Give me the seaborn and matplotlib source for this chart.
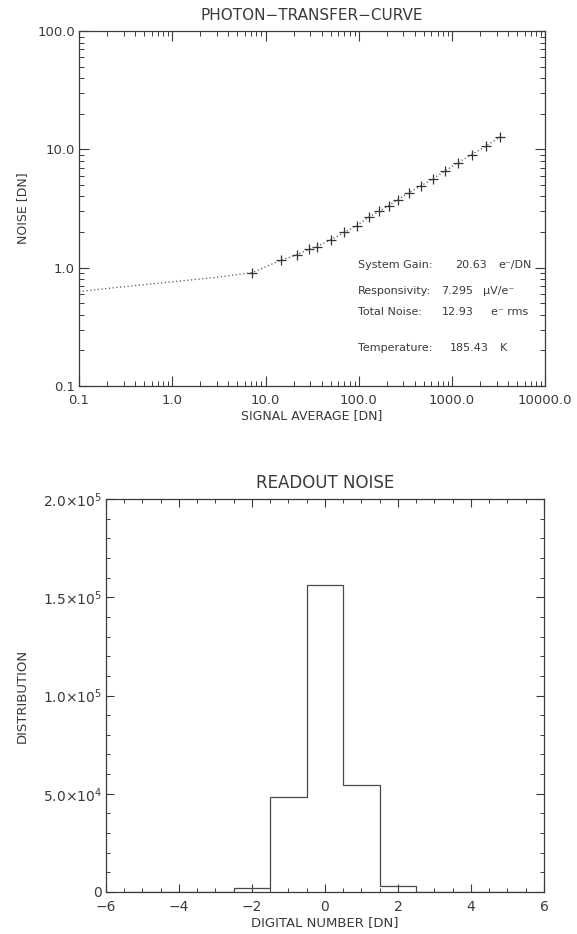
import numpy as np
import pandas as pd
import matplotlib
matplotlib.use("Agg")
import matplotlib.pyplot as plt
import matplotlib.ticker as mticker
import seaborn as sns

# photon transfer curve: measured points (signal average vs noise, DN)
signal_dn = [7.2, 14.7, 21.5, 29, 35.4, 50, 70, 95, 130, 166, 209, 262,
             345, 466, 623, 841, 1157, 1620, 2290, 3300]
noise_dn = [0.91, 1.16, 1.28, 1.43, 1.51, 1.72, 1.99, 2.27, 2.70, 3.0, 3.35, 3.77,
            4.30, 4.93, 5.65, 6.57, 7.73, 9.04, 10.6, 12.8]
# read-noise floor of the fit, below the first point
fit_signal = [0.1, 0.3, 1.0, 3.0, 7.2]
fit_noise = [0.63, 0.69, 0.76, 0.83, 0.91]

x_ticks = [0.1, 1, 10, 100, 1000, 10000]
x_labels = ["0.1", "1.0", "10.0", "100.0", "1000.0", "10000.0"]
y_ticks = [0.1, 1, 10, 100]
y_labels = ["0.1", "1.0", "10.0", "100.0"]

info_names = ["System Gain:", "Responsivity:", "Total Noise:", "Temperature:"]
info_values = ["20.63", "7.295", "12.93", "185.43"]
info_units = ["e⁻/DN", "μV/e⁻", "e⁻ rms", "K"]

# readout noise histogram
dn_bins = [-5, -4, -3, -2, -1, 0, 1, 2, 3, 4, 5]
dn_counts = [0, 0, 0, 2000, 48500, 156000, 54400, 2800, 0, 0, 0]
hist_yticks = [0, 5e4, 1e5, 1.5e5, 2e5]
hist_ylabels = ["0", r"5.0$\times$10$^4$", r"1.0$\times$10$^5$",
                r"1.5$\times$10$^5$", r"2.0$\times$10$^5$"]

sns.set_theme(style="ticks")
ink = "#3a3a3a"
plt.rcParams.update({
    "font.family": ["DejaVu Sans"],
    "axes.edgecolor": ink,
    "axes.linewidth": 0.9,
    "text.color": ink,
    "axes.labelcolor": ink,
    "xtick.color": ink,
    "ytick.color": ink,
    "xtick.direction": "in",
    "ytick.direction": "in",
    "xtick.top": True,
    "ytick.right": True,
})

fig = plt.figure(figsize=(5.77, 9.34), dpi=100)
ax1 = fig.add_axes([0.137, 0.5867, 0.808, 0.380])
ax2 = fig.add_axes([0.1837, 0.045, 0.759, 0.4207])

# ---- top: photon transfer curve
line_df = pd.DataFrame({"signal": fit_signal[:-1] + signal_dn,
                        "noise": fit_noise[:-1] + noise_dn})
pts_df = pd.DataFrame({"signal": signal_dn, "noise": noise_dn})
sns.lineplot(data=line_df, x="signal", y="noise", ax=ax1, color="#555555",
             linestyle=(0, (1, 2)), linewidth=0.9)
sns.scatterplot(data=pts_df, x="signal", y="noise", ax=ax1, marker="+",
                s=55, color="#333333", linewidth=0.9)
ax1.set_xscale("log")
ax1.set_yscale("log")
ax1.set_xlim(0.1, 10000)
ax1.set_ylim(0.1, 100)
ax1.set_xticks(x_ticks, labels=x_labels)
ax1.set_yticks(y_ticks, labels=y_labels)
ax1.xaxis.set_minor_locator(mticker.LogLocator(base=10, subs=np.arange(2, 10)))
ax1.yaxis.set_minor_locator(mticker.LogLocator(base=10, subs=np.arange(2, 10)))
ax1.xaxis.set_minor_formatter(mticker.NullFormatter())
ax1.yaxis.set_minor_formatter(mticker.NullFormatter())
ax1.tick_params(which="major", length=7, width=0.8, labelsize=9.5)
ax1.tick_params(which="minor", length=3.5, width=0.7)
ax1.tick_params(axis="x", pad=6)
ax1.tick_params(axis="y", pad=3)
ax1.set_title("PHOTON−TRANSFER−CURVE", fontsize=11, pad=8)
ax1.set_xlabel("SIGNAL AVERAGE [DN]", fontsize=9, labelpad=1)
ax1.set_ylabel("NOISE [DN]", fontsize=9, labelpad=6)

name_x = 0.599
value_x = [0.806, 0.777, 0.779, 0.796]
unit_x = [0.899, 0.866, 0.884, 0.903]
row_y = [0.341, 0.267, 0.209, 0.107]
for i in range(len(info_names)):
    ax1.text(name_x, row_y[i], info_names[i], transform=ax1.transAxes,
             fontsize=8, va="center", ha="left")
    ax1.text(value_x[i], row_y[i], info_values[i], transform=ax1.transAxes,
             fontsize=8, va="center", ha="left")
    ax1.text(unit_x[i], row_y[i], info_units[i], transform=ax1.transAxes,
             fontsize=8, va="center", ha="left")

# ---- bottom: readout noise histogram
hist_df = pd.DataFrame({"dn": dn_bins, "count": dn_counts})
edges = [b - 0.5 for b in dn_bins] + [dn_bins[-1] + 0.5]
sns.histplot(data=hist_df, x="dn", weights="count", bins=edges, element="step",
             fill=False, color="#4a4a4a", linewidth=0.9, ax=ax2)
ax2.set_xlim(-6, 6)
ax2.set_ylim(0, 2e5)
ax2.set_xticks([-6, -4, -2, 0, 2, 4, 6],
               labels=["−6", "−4", "−2", "0", "2", "4", "6"])
ax2.xaxis.set_minor_locator(mticker.MultipleLocator(0.5))
ax2.set_yticks(hist_yticks, labels=hist_ylabels)
ax2.yaxis.set_minor_locator(mticker.MultipleLocator(1e4))
ax2.tick_params(which="major", length=6, width=0.8, labelsize=10)
ax2.tick_params(which="minor", length=3, width=0.7)
ax2.tick_params(axis="x", pad=6)
ax2.tick_params(axis="y", pad=3)
ax2.set_title("READOUT NOISE", fontsize=12, pad=8)
ax2.set_xlabel("DIGITAL NUMBER [DN]", fontsize=9.5, labelpad=1)
ax2.set_ylabel("DISTRIBUTION", fontsize=9.5, labelpad=10)

fig.savefig("out.png", dpi=100, facecolor="white")
